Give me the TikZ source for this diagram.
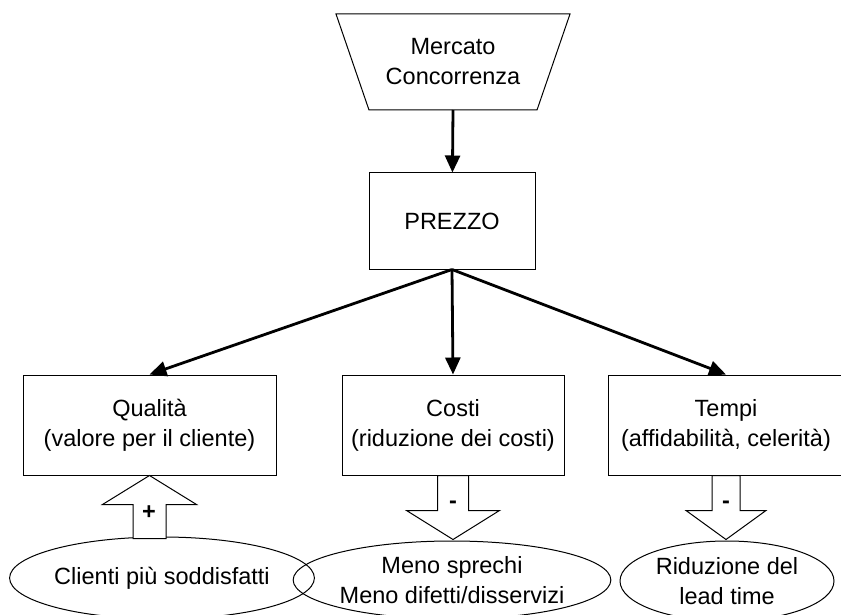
\documentclass[tikz,border=0pt]{standalone}
\usepackage{fontspec}
\setmainfont{Liberation Sans}
\usetikzlibrary{shapes.geometric,arrows.meta}

\begin{document}
\begin{tikzpicture}[x=1pt,y=-1pt,
    every node/.style={font=\fontsize{23.5}{30}\selectfont},
    box/.style={draw,line width=1pt,align=center,inner sep=0pt},
    conn/.style={line width=2.8pt,-{Triangle[length=17pt,width=15pt]}},
    blockarr/.style={draw,fill=white,line width=1pt,line join=miter},
    sign/.style={font=\fontsize{23.5}{30}\selectfont\bfseries}]
    \useasboundingbox (0,0) rectangle (841,615);
    \draw[line width=1pt] (336,14) -- (570,14) -- (537,110) -- (369,110) -- cycle;
    \node[align=center] (mercato) at (453,62) {Mercato\\Concorrenza};
    \coordinate (mercatobase) at (453,110);
    \node[box,minimum width=166,minimum height=96] (prezzo) at (452,221) {PREZZO};
    \node[box,minimum width=253,minimum height=100] (qual) at (149.5,425) {Qualità\\(valore per il cliente)};
    \node[box,minimum width=222,minimum height=100] (costi) at (453,425) {Costi\\(riduzione dei costi)};
    \node[box,minimum width=236,minimum height=100] (tempi) at (726,425) {Tempi\\(affidabilità, celerità)};
    \node[box,ellipse,minimum width=252,minimum height=82] (clienti) at (162,578) {Clienti più soddisfatti};
    \node[box,ellipse,minimum width=292,minimum height=78] (sprechi) at (452,580) {Meno sprechi\\Meno difetti/disservizi};
    \node[box,ellipse,minimum width=214,minimum height=80] (lead) at (727,581) {Riduzione del\\lead time};
    \draw[conn] (mercatobase) -- (prezzo);
    \draw[conn] (prezzo.south) -- (qual.north);
    \draw[conn] (prezzo.south) -- (costi.north);
    \draw[conn] (prezzo.south) -- (tempi.north);
    % frecce larghe
    \draw[blockarr] (qual.south) -- ++(47,29) -- ++(-30.5,0) -- ++(0,34) -- ++(-33,0) -- ++(0,-34) -- ++(-30.5,0) -- cycle;
    \draw[blockarr] (costi.south) ++(-15.5,0) -- ++(31,0) -- ++(0,35) -- ++(31,0) -- ++(-46.5,29) -- ++(-46.5,-29) -- ++(31,0) -- cycle;
    \draw[blockarr] (tempi.south) ++(-14,0) -- ++(28,0) -- ++(0,35) -- ++(26,0) -- ++(-40,29) -- ++(-40,-29) -- ++(26,0) -- cycle;
    \node[sign] (piu) at (149,513) {+};
    \node[sign] (meno1) at (453,505) {-};
    \node[sign] (meno2) at (726,505) {-};
\end{tikzpicture}
\end{document}
